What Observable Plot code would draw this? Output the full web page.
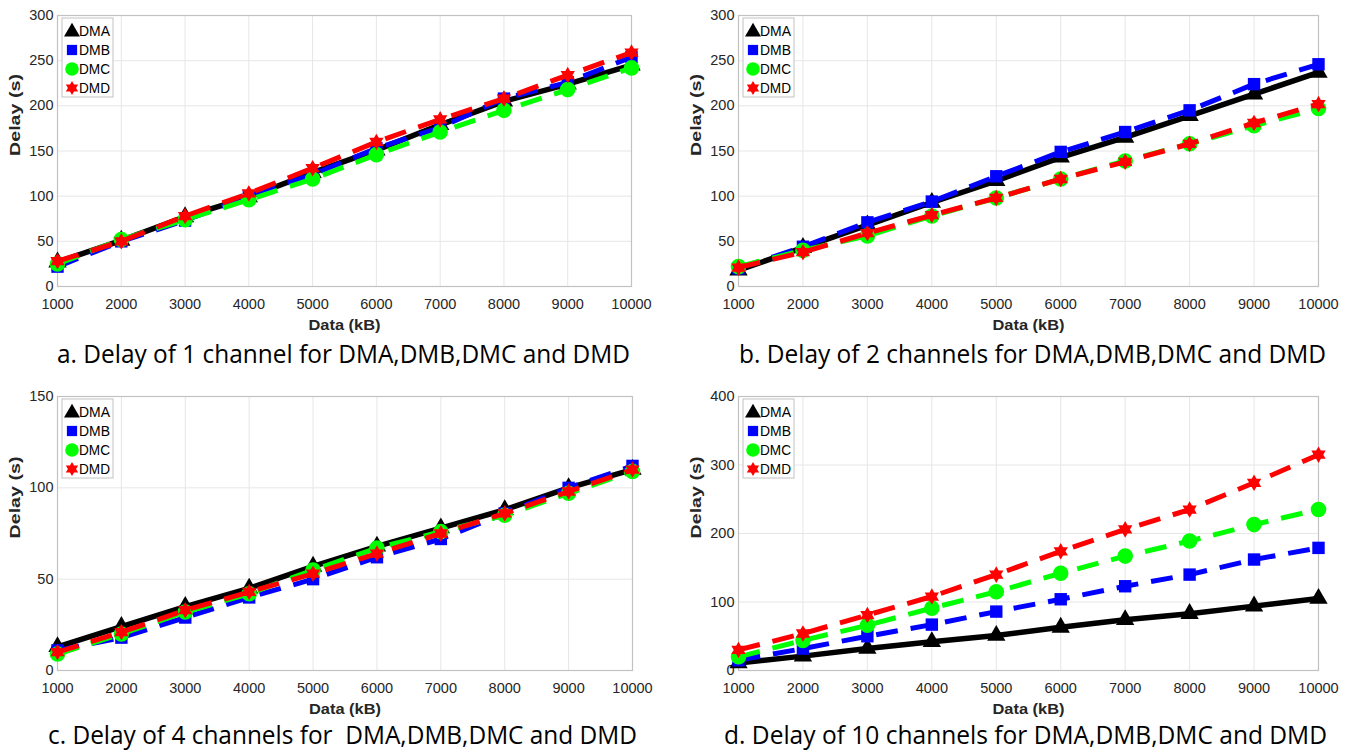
<!DOCTYPE html>
<html><head><meta charset="utf-8">
<script src="https://cdn.jsdelivr.net/npm/d3@7"></script>
<script src="https://cdn.jsdelivr.net/npm/@observablehq/plot@0.6"></script>
<style>
html,body{margin:0;padding:0;background:#fff;}
body{width:1345px;height:753px;overflow:hidden;position:relative;font-family:"Liberation Sans",Arial,sans-serif;}
.panel{position:absolute;}
#overlay{position:absolute;left:0;top:0;pointer-events:none;}
</style></head><body>
<script>
// ---- data ----
const dataKB = [1000, 2000, 3000, 4000, 5000, 6000, 7000, 8000, 9000, 10000];
const seriesNames = ["DMA", "DMB", "DMC", "DMD"];
const seriesColors = ["#000000", "#0000ff", "#00ff00", "#ff0000"];

const ch1_DMA = [27, 51, 77, 99, 126, 151, 179, 205, 224, 245];
const ch1_DMB = [22, 50, 73, 100, 124, 153, 176, 208, 226, 254];
const ch1_DMC = [25, 52, 74, 96, 119, 146, 171, 195, 218, 242];
const ch1_DMD = [28, 50, 78, 103, 131, 160, 185, 208, 234, 259];

const ch2_DMA = [18, 43, 68, 93, 117, 143, 165, 189, 213, 237];
const ch2_DMB = [20, 44, 71, 94, 122, 149, 171, 195, 224, 246];
const ch2_DMC = [22, 40, 56, 78, 98, 119, 139, 158, 178, 197];
const ch2_DMD = [21, 38, 59, 79, 98, 119, 138, 158, 181, 202];

const ch4_DMA = [13, 24, 35, 45, 57, 68, 78, 88, 100, 110];
const ch4_DMB = [11, 18, 29, 40, 50, 62, 72, 86, 100, 112];
const ch4_DMC = [9, 20, 32, 42, 55, 67, 76, 85, 97, 109];
const ch4_DMD = [10, 21, 33, 43, 53, 64, 75, 86, 98, 110];

const ch10_DMA = [11, 21, 32, 42, 51, 63, 74, 83, 94, 105];
const ch10_DMB = [15, 32, 50, 67, 86, 104, 123, 140, 162, 179];
const ch10_DMC = [20, 44, 66, 91, 115, 142, 167, 189, 213, 235];
const ch10_DMD = [30, 54, 81, 108, 140, 174, 206, 235, 274, 315];

const yTicks300 = [0, 50, 100, 150, 200, 250, 300];
const yTicks150 = [0, 50, 100, 150];
const yTicks400 = [0, 100, 200, 300, 400];

const captions = [
  "a. Delay of 1 channel for DMA,DMB,DMC and DMD",
  "b. Delay of 2 channels for DMA,DMB,DMC and DMD",
  "c. Delay of 4 channels for  DMA,DMB,DMC and DMD",
  "d. Delay of 10 channels for DMA,DMB,DMC and DMD"
];
const xLabel = "Data (kB)";
const yLabel = "Delay (s)";

// ---- symbols ----
const hexagram = {
  draw(ctx, size) {
    const R = Math.sqrt(size / Math.PI) * 1.2, r = R / Math.sqrt(3);
    for (let i = 0; i < 12; i++) {
      const a = -Math.PI / 2 + i * Math.PI / 6, rr = i % 2 ? r : R;
      const px = rr * Math.cos(a), py = rr * Math.sin(a);
      i ? ctx.lineTo(px, py) : ctx.moveTo(px, py);
    }
    ctx.closePath();
  }
};
const symbols = ["triangle", "square", "circle", hexagram];
const markerR = [6.8, 7, 7.8, 6.9];

// ---- panels (layout) ----
const panels = [
  {series: [ch1_DMA, ch1_DMB, ch1_DMC, ch1_DMD], yMax: 300, yTicks: yTicks300, left: 0, top: 0, width: 672, mL: 57, mR: 41, mT: 15, mB: 54, capX: 57, capY: 363, capW: 573},
  {series: [ch2_DMA, ch2_DMB, ch2_DMC, ch2_DMD], yMax: 300, yTicks: yTicks300, left: 672, top: 0, width: 673, mL: 66, mR: 27, mT: 15, mB: 54, capX: 739, capY: 363, capW: 587},
  {series: [ch4_DMA, ch4_DMB, ch4_DMC, ch4_DMD], yMax: 150, yTicks: yTicks150, left: 0, top: 381, width: 672, mL: 57, mR: 40, mT: 15, mB: 51, capX: 48, capY: 744, capW: 589},
  {series: [ch10_DMA, ch10_DMB, ch10_DMC, ch10_DMD], yMax: 400, yTicks: yTicks400, left: 672, top: 381, width: 673, mL: 66, mR: 27, mT: 15, mB: 51, capX: 724, capY: 744, capW: 603}
];
const H = 340;

panels.forEach((p, pi) => {
  const marks = [
    Plot.gridX({ticks: dataKB, stroke: "#e6e6e6", strokeOpacity: 1}),
    Plot.gridY({ticks: p.yTicks, stroke: "#e6e6e6", strokeOpacity: 1}),
    Plot.frame({stroke: "#c2c2c2", strokeWidth: 1.2}),
    Plot.axisX({ticks: dataKB, tickSize: 0, tickPadding: 12, tickFormat: d3.format("d"), fontSize: 14.5, fill: "#262626", label: null}),
    Plot.axisY({ticks: p.yTicks, tickSize: 0, tickPadding: 4, tickFormat: d3.format("d"), fontSize: 14.5, fill: "#262626", label: null})
  ];
  p.series.forEach((vals, si) => {
    const rows = dataKB.map((x, i) => ({x, y: vals[i]}));
    marks.push(Plot.line(rows, {x: "x", y: "y", stroke: seriesColors[si], strokeWidth: si === 0 ? 5.5 : 5,
      strokeDasharray: si === 0 ? null : "22,13", strokeLinecap: "butt", strokeLinejoin: "round"}));
    marks.push(Plot.dot(rows, {x: "x", y: "y", symbol: () => symbols[si], fill: seriesColors[si], stroke: "none", r: markerR[si]}));
  });
  marks.push(Plot.text([xLabel], {frameAnchor: "bottom", dy: 39, fontSize: 14, fontWeight: "bold", fill: "#262626", lineAnchor: "middle"}));
  marks.push(Plot.text([yLabel], {frameAnchor: "left", dx: -42, dy: 5, rotate: -90, fontSize: 14, fontWeight: "bold", fill: "#262626"}));

  const chart = Plot.plot({
    width: p.width, height: H,
    marginLeft: p.mL, marginRight: p.mR, marginTop: p.mT, marginBottom: p.mB,
    x: {type: "linear", domain: [1000, 10000]},
    y: {type: "linear", domain: [0, p.yMax]},
    symbol: {type: "identity"},
    style: {fontFamily: "'Liberation Sans', Arial, sans-serif", background: "transparent", overflow: "visible"},
    marks
  });
  chart.classList.add("panel");
  chart.style.left = p.left + "px";
  chart.style.top = p.top + "px";
  document.body.appendChild(chart);
  chart.querySelectorAll("text").forEach(t => {
    if (t.textContent === yLabel) { t.setAttribute("textLength", 82); t.setAttribute("lengthAdjust", "spacingAndGlyphs"); }
    if (t.textContent === xLabel) { t.setAttribute("textLength", 72); t.setAttribute("lengthAdjust", "spacingAndGlyphs"); }
  });
});

// ---- overlay: legends + captions ----
const ov = d3.select("body").append("svg").attr("id", "overlay").attr("width", 1345).attr("height", 753);
panels.forEach((p, pi) => {
  const fx = p.left + p.mL, fy = p.top + p.mT;
  const g = ov.append("g").attr("transform", `translate(${fx + 5},${fy + 3})`);
  g.append("rect").attr("width", 51).attr("height", 79).attr("fill", "#fff").attr("stroke", "#c2c2c2").attr("stroke-width", 1);
  seriesNames.forEach((name, si) => {
    const cy = 13 + si * 19;
    const sym = si === 3 ? hexagram : (si === 0 ? d3.symbolTriangle : si === 1 ? d3.symbolSquare : d3.symbolCircle);
    const sz = [110, 105, 145, 110][si];
    g.append("path").attr("d", d3.symbol(sym, sz)()).attr("transform", `translate(10,${cy + (si === 0 ? 1 : 0)})`).attr("fill", seriesColors[si]);
    g.append("text").attr("x", 17).attr("y", cy + 5).attr("font-size", 14).attr("fill", "#000")
      .attr("font-family", "'Liberation Sans', Arial, sans-serif").attr("textLength", 31).attr("lengthAdjust", "spacingAndGlyphs").text(name);
  });
  ov.append("text").attr("x", p.capX).attr("y", p.capY).attr("font-size", 25).attr("fill", "#000")
    .attr("font-family", "'Open Sans', 'Noto Sans', sans-serif").attr("textLength", p.capW).attr("lengthAdjust", "spacingAndGlyphs")
    .attr("xml:space", "preserve").style("white-space", "pre").text(captions[pi]);
});
</script>
</body></html>
